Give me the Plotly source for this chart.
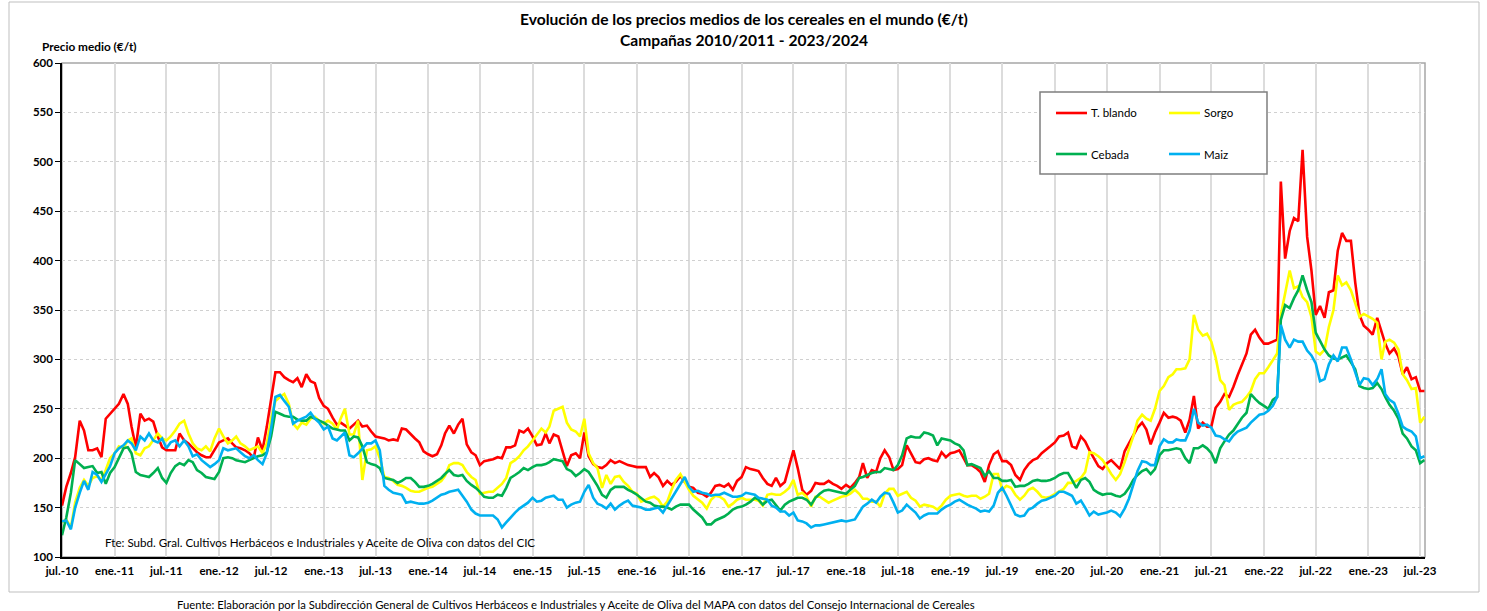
import pandas as pd
import plotly.graph_objects as go

# ---------------- data (semi-monthly readings: 1st and 16th of each month, Jul-2010 .. Jul-2023) ----------------
months = pd.date_range("2010-07-01", "2023-07-01", freq="MS")
dates = []
for m in months:
    dates.append(m)
    dates.append(m + pd.Timedelta(days=15))

t_blando = [
    152,171,185,201,238,228,208,208,210,201,240,245,250,255,265,255,232,211,245,238,240,237,222,211,208,208,208,225,218,215,211,206,203,201,201,208,216,218,220,215,211,210,208,205,200,221,208,232,262,287,287,282,279,
    277,281,272,285,278,276,261,253,250,241,234,236,233,230,234,238,232,233,227,222,221,220,218,219,218,230,229,224,220,216,207,204,202,204,213,225,233,225,234,240,214,206,203,193,197,198,199,201,200,211,211,213,228,226,
    230,222,213,214,225,215,224,222,206,192,203,205,200,226,202,194,191,190,193,198,195,197,195,193,192,191,191,191,181,185,181,172,177,173,176,182,176,171,170,165,164,161,165,172,173,171,174,168,177,181,191,189,188,
    187,180,174,172,180,172,176,192,208,190,168,163,167,175,174,174,177,174,172,169,173,170,175,181,195,180,188,186,200,208,201,188,189,193,213,205,196,195,199,200,198,197,206,201,205,206,208,200,193,193,190,186,176,
    193,204,207,197,197,193,183,178,188,194,198,200,205,209,212,216,222,223,226,212,210,222,217,208,200,192,189,195,198,193,189,207,215,222,231,236,229,214,226,236,246,241,242,241,238,226,239,263,230,236,232,232,251,
    257,265,262,272,284,295,306,325,330,322,316,316,318,320,480,402,430,443,440,512,424,390,345,354,342,368,370,410,428,420,420,378,345,334,330,325,342,328,316,306,311,303,285,292,280,282,268,268,
]
sorgo = [
    135,138,130,155,170,178,172,180,182,178,188,200,205,212,210,218,220,205,203,210,212,218,225,220,218,222,228,235,238,225,215,210,208,212,207,220,230,222,215,218,222,215,212,208,210,212,205,215,240,258,262,265,255,
    235,230,236,234,240,242,238,235,238,235,229,240,250,224,224,238,178,208,209,212,200,181,180,177,173,172,170,167,166,166,168,170,171,174,177,182,193,195,195,193,186,181,178,164,165,166,166,170,174,180,195,198,202,208,
    212,218,224,230,226,232,248,250,252,236,229,227,222,240,205,195,190,170,183,174,181,182,176,172,166,164,156,158,160,161,158,151,156,168,178,184,176,168,162,158,155,149,158,162,161,158,151,154,158,160,158,158,158,
    157,152,163,164,163,163,166,170,178,163,165,161,151,161,161,158,155,157,159,161,162,164,168,164,159,159,156,156,151,164,169,169,162,164,166,160,157,151,153,152,151,148,152,158,162,163,164,162,161,162,162,159,161,
    164,184,184,168,172,170,163,158,162,168,170,166,161,160,161,164,166,169,175,175,177,180,186,206,205,202,198,191,184,178,184,196,208,222,238,244,240,238,250,268,273,282,285,290,290,291,300,345,330,324,326,318,302,
    279,274,249,254,256,257,262,268,280,286,286,292,299,306,345,368,390,372,374,363,358,343,308,305,310,333,350,385,375,378,370,357,343,346,343,341,337,300,318,320,317,310,285,279,270,271,236,242,
]
cebada = [
    122,140,165,198,194,190,191,192,185,186,174,185,191,200,210,211,205,186,183,182,181,185,190,180,175,185,192,195,193,198,196,188,185,181,180,179,186,200,201,200,198,197,196,198,200,202,203,206,222,247,245,243,242,
    242,239,238,238,242,240,238,236,233,230,229,228,228,218,222,221,212,196,194,193,190,180,179,178,175,177,180,180,176,171,171,172,174,177,180,184,188,183,182,183,177,173,170,166,161,160,160,163,162,170,180,183,186,190,
    188,191,193,193,194,196,199,198,197,189,187,182,185,189,186,179,172,163,160,168,171,171,171,168,166,163,160,156,155,152,151,151,150,148,151,153,153,153,148,144,140,133,133,137,139,141,144,148,150,151,153,156,160,
    158,153,157,158,152,147,153,156,158,160,160,158,153,160,164,167,168,167,166,165,164,168,172,180,181,183,185,186,186,190,189,188,193,203,220,222,221,221,226,225,223,213,220,219,218,215,213,208,193,194,192,190,182,
    187,180,180,177,177,178,171,172,172,174,177,178,177,177,178,180,183,185,185,178,170,178,180,176,168,165,163,164,164,162,161,164,170,178,183,187,189,184,189,203,208,208,209,210,209,200,195,210,210,213,210,205,195,
    210,217,224,228,234,241,246,265,260,256,253,250,259,262,340,355,352,362,370,385,370,358,327,318,310,304,301,300,302,304,297,290,273,271,270,271,276,270,262,254,248,240,225,220,212,208,195,198,
]
maiz = [
    136,137,128,150,165,177,168,186,183,176,184,192,205,210,213,218,215,208,222,218,225,218,216,220,210,216,218,212,218,212,202,204,198,194,191,194,198,210,208,209,210,206,202,200,203,198,194,205,230,262,264,258,252,
    235,238,240,242,246,240,236,229,232,220,218,222,226,203,201,205,210,215,215,218,208,172,168,165,164,163,155,156,155,154,154,155,157,160,163,164,166,167,168,162,156,148,144,142,142,142,142,138,130,135,140,145,149,152,
    155,160,156,157,160,161,162,158,158,150,153,155,156,166,173,160,154,152,149,154,148,152,155,157,152,151,150,148,148,149,150,145,152,160,166,174,181,171,166,167,165,164,162,163,163,165,163,161,161,162,165,164,163,
    160,159,158,152,150,146,146,142,145,137,136,134,130,132,132,133,134,135,136,137,136,137,138,145,151,154,158,155,161,165,164,155,145,147,153,149,145,139,142,144,144,144,148,151,153,156,158,155,153,151,149,146,147,
    146,152,165,170,162,152,143,141,142,148,150,154,157,158,160,162,166,166,164,162,154,157,150,142,146,143,144,145,147,145,141,149,159,174,187,197,196,193,193,212,219,216,216,219,218,218,228,250,236,233,234,231,223,
    222,219,217,223,227,229,231,236,240,244,245,248,253,262,335,320,312,320,318,318,309,304,296,278,280,295,304,298,312,312,300,287,274,281,280,274,280,290,265,259,256,245,232,229,227,222,200,202,
]

series_names = ["T. blando", "Sorgo", "Cebada", "Maiz"]
series_colors = ["#FF0000", "#FFFF00", "#00B050", "#00B0F0"]
series_values = [t_blando, sorgo, cebada, maiz]

tick_dates = pd.date_range("2010-07-01", "2023-07-01", freq="6MS")
tick_labels = ["jul.-10", "ene.-11", "jul.-11", "ene.-12", "jul.-12", "ene.-13", "jul.-13", "ene.-14",
               "jul.-14", "ene.-15", "jul.-15", "ene.-16", "jul.-16", "ene.-17", "jul.-17", "ene.-18",
               "jul.-18", "ene.-19", "jul.-19", "ene.-20", "jul.-20", "ene.-21", "jul.-21", "ene.-22",
               "jul.-22", "ene.-23", "jul.-23"]

# ---------------- layout geometry (pixels) ----------------
W, H = 1487, 611
PL, PR, PT, PB = 62, 1425, 63, 557
pw, ph = PR - PL, PB - PT


def px(x):
    return (x - PL) / pw


def py(y):
    return (PB - y) / ph


FONT = "Lato"

fig = go.Figure()
for name, color, vals in zip(series_names, series_colors, series_values):
    fig.add_trace(go.Scatter(x=dates, y=vals, mode="lines", name=name,
                             line=dict(color=color, width=2.6), showlegend=False))

fig.update_layout(
    width=W, height=H, autosize=False,
    margin=dict(l=PL, r=W - PR, t=PT, b=H - PB, pad=0),
    paper_bgcolor="white", plot_bgcolor="white",
    font=dict(family=FONT, color="#000000"),
    xaxis=dict(
        type="date", range=["2010-07-01", "2023-07-18"],
        tickmode="array", tickvals=list(tick_dates), ticktext=tick_labels,
        tickfont=dict(family=FONT, size=11.5, weight="bold", color="#000"),
        showgrid=True, gridcolor="#dcdcdc", gridwidth=1.8,
        showline=True, linecolor="#000000", linewidth=1.5,
        ticks="", ticklabelstandoff=2, zeroline=False,
    ),
    yaxis=dict(
        range=[100, 600], tickmode="linear", tick0=100, dtick=50,
        tickfont=dict(family=FONT, size=11.5, weight="bold", color="#000"),
        showgrid=True, gridcolor="#d0d0d0", gridwidth=1, griddash="dot",
        showline=True, linecolor="#000000", linewidth=1.5,
        ticks="outside", ticklen=5, tickcolor="#000", tickwidth=1, zeroline=False,
    ),
)

shapes = []
# outer chart border
shapes.append(dict(type="rect", xref="paper", yref="paper", x0=px(9), x1=px(1479), y0=py(592), y1=py(2),
                   line=dict(color="#bfbfbf", width=1), fillcolor="rgba(0,0,0,0)", layer="below"))
# plot area border (top/right gray)
shapes.append(dict(type="rect", xref="paper", yref="paper", x0=0, x1=1, y0=0, y1=1,
                   line=dict(color="#a6a6a6", width=1.5), fillcolor="rgba(0,0,0,0)", layer="below"))
# legend box
shapes.append(dict(type="rect", xref="paper", yref="paper", x0=px(1040), x1=px(1267), y0=py(174), y1=py(92),
                   line=dict(color="#7f7f7f", width=1.5), fillcolor="white", layer="above"))

annotations = []
legend_pos = [(1056, 113), (1169, 113), (1056, 154), (1169, 154)]
for (lx, ly), name, color in zip(legend_pos, series_names, series_colors):
    shapes.append(dict(type="line", xref="paper", yref="paper", x0=px(lx), x1=px(lx + 31), y0=py(ly), y1=py(ly),
                       line=dict(color=color, width=2.6), layer="above"))
    annotations.append(dict(xref="paper", yref="paper", x=px(lx + 33), y=py(ly), text=name, showarrow=False,
                            xanchor="left", yanchor="middle", font=dict(family=FONT, size=11.5, color="#000")))

annotations += [
    dict(xref="paper", yref="paper", x=0.5, y=py(19),
         text="Evolución de los precios medios de los cereales en el mundo (€/t)",
         showarrow=False, xanchor="center", yanchor="middle",
         font=dict(family=FONT, size=15.6, weight="bold", color="#000")),
    dict(xref="paper", yref="paper", x=0.5, y=py(40),
         text="Campañas 2010/2011 - 2023/2024",
         showarrow=False, xanchor="center", yanchor="middle",
         font=dict(family=FONT, size=15.6, weight="bold", color="#000")),
    dict(xref="paper", yref="paper", x=px(40), y=py(46), text="Precio medio (€/t)",
         showarrow=False, xanchor="left", yanchor="middle",
         font=dict(family=FONT, size=11.8, weight="bold", color="#000")),
    dict(xref="paper", yref="paper", x=px(103), y=py(542),
         text="Fte: Subd. Gral. Cultivos Herbáceos e Industriales y Aceite de Oliva con datos del CIC",
         showarrow=False, xanchor="left", yanchor="middle",
         font=dict(family=FONT, size=11.6, color="#000")),
    dict(xref="paper", yref="paper", x=px(175), y=py(604),
         text="Fuente: Elaboración por la Subdirección General de Cultivos Herbáceos e Industriales y Aceite de Oliva del MAPA con datos del Consejo Internacional de Cereales",
         showarrow=False, xanchor="left", yanchor="middle",
         font=dict(family=FONT, size=11.3, color="#000")),
]

fig.update_layout(shapes=shapes, annotations=annotations)

fig.write_html("out.html", config={"displayModeBar": False},
               post_script="document.body.style.margin='0';document.body.style.overflow='hidden';")
